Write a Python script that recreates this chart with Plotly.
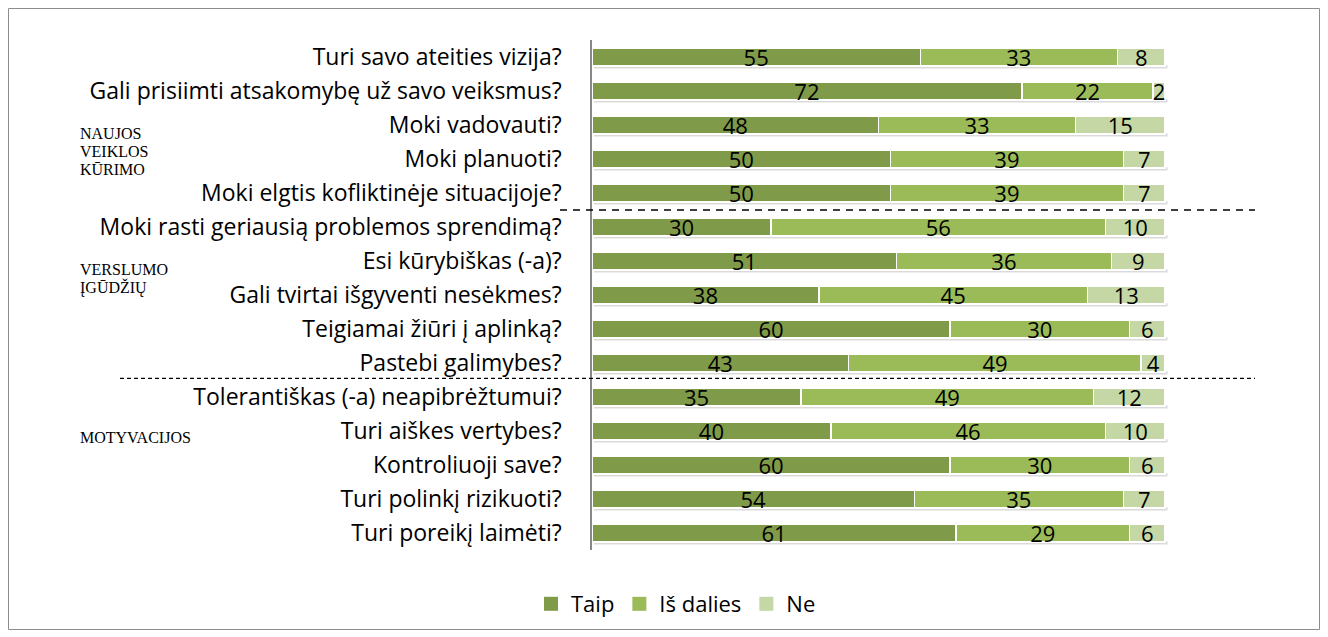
import plotly.graph_objects as go

categories = [
    "Turi savo ateities vizija?",
    "Gali prisiimti atsakomybę už savo veiksmus?",
    "Moki vadovauti?",
    "Moki planuoti?",
    "Moki elgtis kofliktinėje situacijoje?",
    "Moki rasti geriausią problemos sprendimą?",
    "Esi kūrybiškas (-a)?",
    "Gali tvirtai išgyventi nesėkmes?",
    "Teigiamai žiūri į aplinką?",
    "Pastebi galimybes?",
    "Tolerantiškas (-a) neapibrėžtumui?",
    "Turi aiškes vertybes?",
    "Kontroliuoji save?",
    "Turi polinkį rizikuoti?",
    "Turi poreikį laimėti?",
]
taip = [55, 72, 48, 50, 50, 30, 51, 38, 60, 43, 35, 40, 60, 54, 61]
is_dalies = [33, 22, 33, 39, 39, 56, 36, 45, 30, 49, 49, 46, 30, 35, 29]
ne = [8, 2, 15, 7, 7, 10, 9, 13, 6, 4, 12, 10, 6, 7, 6]
series_names = ["Taip", "Iš dalies", "Ne"]
colors = ["#7F9A48", "#9BBB59", "#C4D7A4"]
group_lines = [
    ("NAUJOS", 133), ("VEIKLOS", 151), ("KŪRIMO", 169),
    ("VERSLUMO", 269), ("ĮGŪDŽIŲ", 287),
    ("MOTYVACIJOS", 437),
]

FONT = "Open Sans"
OFF = 8  # page body margin
W, H = 1312, 622
L, R, T, B = 592, 1255, 40, 550  # rendered page pixels of plot area
pw, ph = R - L, B - T
BARGAP = 0.47

def px(x):
    return (x - L) / pw

def py(y):
    return (B - y) / ph

fig = go.Figure()
for name, vals, col in zip(series_names, [taip, is_dalies, ne], colors):
    fig.add_trace(go.Bar(
        y=categories, x=vals, name=name, orientation="h", showlegend=False,
        marker=dict(color=col, line=dict(color="white", width=1.5)),
        text=[str(v) for v in vals], textposition="inside",
        insidetextanchor="middle", textangle=0,
        textfont=dict(color="black", size=22, family=FONT),
        constraintext="none",
    ))
# legend entries (square swatches)
for name, col in zip(series_names, colors):
    fig.add_trace(go.Scatter(
        x=[None], y=[None], mode="markers", name=name, showlegend=True,
        marker=dict(symbol="square", size=14, color=col),
    ))

shapes = [
    dict(type="rect", xref="paper", yref="paper",
         x0=px(OFF + 0.5), x1=px(OFF + W - 0.5), y0=py(OFF + H - 0.5), y1=py(OFF + 0.5),
         line=dict(color="#8c8c8c", width=1), fillcolor="rgba(0,0,0,0)", layer="below"),
    dict(type="line", xref="paper", yref="y", x0=px(560), x1=1.0, y0=4.5, y1=4.5,
         line=dict(color="black", width=1.5, dash="7px,6px")),
    dict(type="line", xref="paper", yref="y", x0=px(120), x1=1.0, y0=9.45, y1=9.45,
         line=dict(color="black", width=1.2, dash="4px,3px")),
]
# soft shadows under each bar
half = (1 - BARGAP) / 2
for i in range(len(categories)):
    tot = taip[i] + is_dalies[i] + ne[i]
    shapes.append(dict(type="rect", xref="x", yref="y", x0=0.3, x1=tot + 0.4,
                       y0=i + half - 0.02, y1=i + half + 0.07,
                       line=dict(width=0), fillcolor="rgba(150,150,150,0.35)", layer="below"))

gfont = dict(family="Liberation Serif", size=16, color="black")
annotations = [
    dict(text=t, xref="paper", yref="paper", x=px(78), y=py(yy), xanchor="left", yanchor="middle",
         showarrow=False, align="left", font=gfont)
    for t, yy in group_lines
]

fig.update_layout(
    width=W, height=H,
    margin=dict(l=L - OFF, r=OFF + W - R, t=T - OFF, b=OFF + H - B, pad=0, autoexpand=False),
    barmode="stack", bargap=BARGAP,
    plot_bgcolor="white", paper_bgcolor="white",
    font=dict(family=FONT, size=20, color="black"),
    xaxis=dict(range=[0, pw / 5.97], showgrid=False, showticklabels=False, zeroline=False, showline=False),
    yaxis=dict(categoryorder="array", categoryarray=categories, range=[14.5, -0.5],
               showline=True, linecolor="#888888", linewidth=1.5, ticks="", ticklen=0,
               ticklabelstandoff=24,
               tickfont=dict(size=23, family=FONT), showgrid=False),
    legend=dict(orientation="h", x=px(676), xanchor="center", y=py(604), yanchor="middle",
                font=dict(size=22, family=FONT), traceorder="normal", itemwidth=30),
    shapes=shapes, annotations=annotations,
    uniformtext=dict(mode=False),
)
fig.write_html("out.html")
